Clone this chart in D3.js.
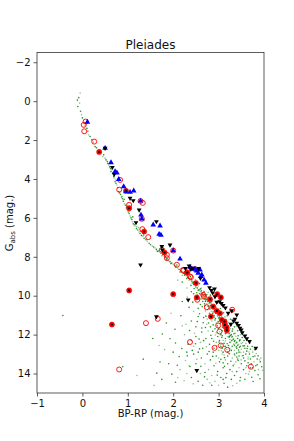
<!DOCTYPE html>
<html><head><meta charset="utf-8">
<script src="https://cdn.jsdelivr.net/npm/d3@7"></script>
<style>body{margin:0;background:#fff}svg{display:block}text{font-family:"DejaVu Sans",sans-serif}</style>
</head><body><svg id="c" width="294" height="441"></svg>
<script>
const titleText = "Pleiades";
const xLabel = "BP-RP (mag.)";
const xTicks = [-1,0,1,2,3,4];
const yTicks = [-2,0,2,4,6,8,10,12,14];

const greenStars = [
[-0.05,-0.42],[-0.08,-0.18],[-0.11,-0.05],[-0.06,0.1],[-0.1,0.28],[-0.04,0.52],[-0.02,0.7],[0.0,0.86],[0.03,1.1],[0.06,1.28],[0.1,1.4],[0.12,1.55],[0.14,1.74],[0.17,1.82],[0.21,1.99],[0.24,2.12],[0.28,2.34],[0.31,2.4],[0.36,2.52],[0.41,2.64],[0.47,2.76],[0.5,2.93],[0.52,3.02],[0.55,3.1],[0.58,3.28],[0.6,3.38],[0.62,3.47],[0.65,3.53],[0.67,3.7],[0.69,3.88],[0.7,3.95],[0.72,4.14],[0.74,4.22],[0.76,4.31],[0.78,4.45],[0.8,4.65],[0.73,4.05],[0.63,3.62],[0.56,3.2],[0.45,2.85],
[0.82,4.72],[0.84,4.8],[0.86,4.95],[0.88,5.02],[0.9,5.15],[0.93,5.28],[0.95,5.35],[0.97,5.48],[0.99,5.6],[1.01,5.7],[1.03,5.78],[1.05,5.9],[1.07,6.0],[1.09,6.08],[1.1,6.2],[1.12,6.3],[1.14,6.35],[1.16,6.42],[1.19,6.55],[1.22,6.62],[1.25,6.72],[1.27,6.8],[1.3,6.9],[1.33,6.95],[1.36,7.05],[1.4,7.12],[1.43,7.2],[1.47,7.3],[1.5,7.38],[1.54,7.45],[0.92,5.05],[0.98,5.4],[1.04,5.65],[1.11,5.95],[1.18,6.28],[1.24,6.5],[1.29,6.7],[1.35,6.88],[1.2,6.45],[0.87,4.9],
[1.57,7.5],[1.6,7.55],[1.63,7.62],[1.67,7.7],[1.7,7.75],[1.73,7.82],[1.77,7.9],[1.8,7.98],[1.83,8.02],[1.87,8.1],[1.9,8.2],[1.93,8.25],[1.97,8.32],[2.0,8.38],[2.03,8.45],[2.06,8.5],[2.1,8.58],[2.13,8.65],[2.17,8.72],[2.2,8.78],[2.23,8.85],[2.26,8.9],[2.29,8.98],[2.32,9.05],[2.35,9.1],[2.38,9.18],[2.41,9.25],[2.44,9.3],[2.47,9.38],[2.5,9.45],[1.65,7.72],[1.75,7.95],[1.85,8.12],[1.95,8.35],[2.05,8.55],[2.15,8.78],[2.25,8.95],[2.35,9.2],[2.45,9.42],[2.08,8.42],[2.18,8.62],[2.28,8.82],[2.38,9.02],[2.2,8.95],[2.3,9.12],[2.42,9.35],[2.3,9.6],[2.4,9.8],[2.2,9.3],[2.1,9.2],
[2.5,9.55],[2.53,9.6],[2.55,9.5],[2.57,9.7],[2.6,9.65],[2.6,9.8],[2.62,9.75],[2.64,9.9],[2.66,9.85],[2.67,10.0],[2.69,9.95],[2.7,10.1],[2.72,10.05],[2.73,10.2],[2.75,10.15],[2.76,10.3],[2.78,10.25],[2.79,10.4],[2.8,10.35],[2.82,10.5],[2.84,10.45],[2.85,10.6],[2.87,10.55],[2.88,10.7],[2.9,10.65],[2.91,10.8],[2.93,10.75],[2.94,10.9],[2.96,10.85],[2.97,11.0],[2.55,9.72],[2.58,9.9],[2.63,10.02],[2.68,10.15],[2.71,10.3],[2.74,10.42],[2.77,10.55],[2.81,10.68],[2.84,10.8],[2.87,10.92],[2.9,11.02],[2.62,9.6],[2.68,9.78],[2.74,9.95],[2.8,10.12],[2.85,10.28],[2.9,10.45],[2.95,10.6],[3.0,10.75],[2.52,9.85],[2.58,10.1],[2.65,10.3],[2.7,10.5],[2.76,10.72],[2.8,10.9],[2.6,10.45],[2.5,10.2],[2.55,10.65],[2.45,9.9],
[2.98,11.05],[3.0,11.15],[3.02,11.1],[3.03,11.25],[3.05,11.2],[3.06,11.35],[3.08,11.3],[3.09,11.45],[3.1,11.4],[3.12,11.55],[3.13,11.5],[3.15,11.65],[3.16,11.6],[3.18,11.75],[3.19,11.7],[3.2,11.85],[3.22,11.8],[3.23,11.95],[3.25,11.9],[3.26,12.05],[3.28,12.0],[3.29,12.15],[3.3,12.1],[3.32,12.25],[3.33,12.2],[3.35,12.35],[3.36,12.3],[3.38,12.45],[3.4,12.4],[3.42,12.55],[3.44,12.5],[3.46,12.65],[3.48,12.6],[3.5,12.75],[2.9,11.1],[2.92,11.25],[2.95,11.4],[2.97,11.55],[3.0,11.7],[3.02,11.85],[3.05,12.0],[3.07,12.15],[3.1,12.3],[3.12,12.45],[3.15,12.6],[3.18,12.75],[3.2,12.9],[3.1,11.2],[3.14,11.3],[3.18,11.42],[3.22,11.55],[3.26,11.7],[3.3,11.82],[3.34,11.95],[3.38,12.08],[3.42,12.2],[3.46,12.32],[3.5,12.45],[3.54,12.58],[3.58,12.7],[2.85,11.3],[2.88,11.5],[2.92,11.7],[2.95,11.9],[2.98,12.1],[3.02,12.3],[3.05,12.5],[3.08,12.7],[3.1,12.9],[3.12,13.05],[3.25,12.4],[3.3,12.6],[3.35,12.8],[3.4,12.95],[3.45,13.1],[3.2,12.1],[3.15,11.95],[3.08,11.8],[3.25,12.25],[3.35,12.55],[3.4,12.7],[3.55,12.9],[3.6,13.0],[3.62,12.85],[3.65,13.15],[3.68,13.0],[3.7,13.25],[3.28,11.4],[3.35,11.6],[3.42,11.8],[3.48,12.0],[3.52,12.15],[3.56,12.3],[3.6,12.45],[3.64,12.6],[3.7,12.75],[3.75,12.9],[3.8,13.1],[3.85,13.25],[3.9,13.3],[2.82,11.6],[2.78,11.4],[2.75,11.2],[2.72,11.05],
[2.4,12.3],[2.45,12.6],[2.5,12.1],[2.55,12.9],[2.6,12.4],[2.62,13.2],[2.65,12.7],[2.7,13.5],[2.72,12.2],[2.75,13.0],[2.78,13.8],[2.8,12.5],[2.82,13.3],[2.85,14.1],[2.88,12.9],[2.9,13.6],[2.92,14.4],[2.95,13.1],[2.98,13.9],[3.0,12.8],[3.02,13.4],[3.05,14.2],[3.08,13.0],[3.1,13.7],[3.12,14.5],[3.15,13.3],[3.18,14.0],[3.2,13.5],[3.22,12.95],[3.25,13.8],[3.28,14.3],[3.3,13.2],[3.32,13.6],[3.35,14.1],[3.38,13.4],[3.4,13.9],[3.42,13.25],[3.45,13.7],[3.48,14.2],[3.5,13.5],[3.52,13.1],[3.55,13.8],[3.58,13.35],[3.6,14.0],[3.62,13.6],[3.65,13.45],[3.68,13.9],[3.72,13.5],[3.75,13.7],[3.78,13.4],[3.82,13.6],[3.85,13.55],[3.88,13.8],[3.92,13.4],[3.95,13.65],[2.6,14.0],[2.55,14.4],[2.65,14.6],[2.75,14.3],[2.85,14.6],[2.7,13.95],[3.0,14.6],[3.1,14.3],[3.2,14.7],[3.4,14.5],[2.5,13.5],[2.45,13.0],[2.35,13.6],[2.4,14.2],[2.3,12.9],[2.95,12.4],[3.05,12.6],[3.15,12.2],[3.25,12.7],[3.35,13.0],[3.45,12.9],[3.5,13.3],[2.85,12.2],[2.9,12.7],[3.0,13.2],[3.1,13.45],[3.2,13.1],[3.3,13.9],[3.4,13.15],[3.55,13.2],[3.65,13.25],[3.7,13.7],[3.8,13.85],[3.6,13.7],
[-0.43,11.02],[0.89,13.65],[1.2,14.1],[1.34,13.26],[1.64,13.98],[1.69,12.56],[1.76,11.97],[2.05,12.43],[2.2,11.55],[2.31,13.09],[2.37,13.64],[2.44,14.53],[2.55,11.07],[2.63,11.66],[2.1,14.2],[1.9,13.5],[2.0,12.9],[2.25,12.0],[1.85,11.4],[2.4,11.3],[2.15,13.8],[1.55,12.2],[2.5,11.6],[2.45,10.8],[2.35,10.6],[2.2,10.3],[1.95,10.9],[2.05,14.45],[1.75,14.3],[2.3,14.0],
[2.63,9.93],[2.71,10.22],[2.77,10.08],[2.83,10.37],[2.69,10.41],[2.86,10.19],[2.92,10.51],[2.79,10.63],[2.97,10.38],[3.04,10.66],[2.88,10.84],[3.01,10.97],[3.11,10.88],[2.93,11.17],[3.07,11.08],[3.16,11.22],[2.99,11.33],[3.21,11.36],[3.09,11.62],[3.27,11.53],[3.17,11.87],[3.31,11.71],[3.23,12.13],[3.37,11.93],[3.29,12.31],[3.43,12.06],[3.33,12.49],[3.47,12.27],[3.39,12.63],[3.53,12.41],[3.44,12.79],[3.57,12.57],[3.49,12.91],[3.63,12.71],[3.54,13.07],[3.67,12.89],[3.12,12.61],[3.19,12.47],[3.06,12.83],[3.24,12.98],[3.13,13.18],[2.96,12.57],[2.89,12.34],[2.83,12.03],[2.77,11.81],[2.71,11.63],[2.66,11.39],[2.93,12.02],[3.01,12.38],[2.87,11.83],[3.14,11.09],[3.19,11.03],[3.26,11.21],[3.34,11.39],[3.41,11.57],[3.46,11.76],[3.51,11.92],[3.57,12.11],[3.62,12.27],[3.69,12.44],[3.74,12.61],[3.79,12.77],[3.83,12.97],[3.76,13.13],[3.87,13.09],[3.93,13.21],[3.04,11.41],[3.11,11.67],[3.18,11.93],[3.24,12.09],[3.08,12.06],[3.15,12.33],[3.22,12.56],[3.28,12.81],[3.36,13.07],[3.43,13.33],[3.27,13.37],[3.34,13.52],[3.13,13.63],[3.05,13.27],[2.94,13.47],[2.87,13.12],[2.79,12.87],[2.73,12.63],[2.67,12.31],[2.58,12.73],[2.52,13.27],[2.61,13.63],[2.69,14.17],[2.81,14.47],[2.97,14.08],[3.16,14.21],[3.31,14.63],[3.47,14.37],[3.58,14.29],[3.66,14.03],[3.73,14.19],[3.87,14.06],[3.97,13.83],[3.91,14.27],[3.76,14.41],[2.77,9.83],[2.82,9.97],[2.58,9.38],[2.49,9.17],[2.46,9.63],[2.39,9.47],[2.54,9.96],[2.61,10.17],[2.64,10.57],[2.71,10.78],[2.58,10.93],[2.67,11.12],[2.74,11.47],[2.63,11.87],[2.57,12.23],[2.47,11.93],[2.42,12.81],[2.33,12.49],[2.27,13.33],[2.19,12.71],[2.13,13.13],[2.24,14.37],[2.09,13.57],[1.97,14.03],[1.81,12.77],[1.93,12.21],[1.71,13.41],[1.58,14.61],[2.04,11.72],[2.17,11.03],[2.28,11.47],[2.36,11.79],[2.43,10.33],[2.31,10.07],[2.53,11.33],[2.49,12.47]
];

const blueStars = [
[0.11,1.08],[0.50,2.42],[0.63,3.16],[0.72,3.62],[0.76,3.68],[0.80,4.02],[0.91,4.39],[0.96,4.65],[1.05,4.68],[1.13,4.61],[1.28,5.13],[1.29,5.85],[1.31,6.05],[1.56,6.36],[1.71,6.41],[1.69,6.84],[1.73,6.88],[2.00,7.68],[2.15,8.11],[2.37,8.53],[2.41,8.62],[2.48,8.63],[2.52,8.72],[2.59,8.67],[2.55,8.84],[2.63,8.93],[2.61,9.01],[2.68,9.19],[2.72,9.35]
];

const blackStars = [
[0.50,2.42],[0.66,3.40],[0.70,3.76],[1.05,4.99],[1.12,5.11],[1.25,5.59],[1.18,6.24],[1.63,6.19],[1.75,7.47],[1.93,7.39],[1.76,7.64],[1.28,8.41],[2.35,8.47],[2.39,8.64],[2.80,9.58],[2.84,9.72],[2.33,10.21],[2.96,10.33],[3.02,10.3],[3.29,10.77],[3.40,10.98],[3.27,11.46],[3.40,11.41],[3.47,11.67],[3.52,11.9],[3.58,12.06],[3.82,12.69],[2.52,13.84],[1.63,11.08],
[2.43,8.58],[2.56,8.6],[2.87,9.85],[2.91,9.65],[3.06,10.4],[3.1,10.5],[3.36,11.2],[3.44,11.52],[3.5,11.75],[3.62,12.2],[3.68,12.35],[2.27,8.6],[2.6,9.1],[2.92,10.05],[3.21,10.9],[3.15,10.62],[3.33,11.3]
];

const redFilled = [
[0.37,2.61],[0.96,4.61],[1.03,5.5],[1.36,6.70],[1.81,7.78],[2.31,8.81],[2.50,9.35],[2.81,10.18],[2.52,10.09],[2.97,9.92],[3.05,10.09],[2.88,10.56],[2.96,10.78],[3.03,10.9],[2.83,11.07],[3.07,11.24],[3.13,11.33],[3.14,11.5],[3.18,11.64],[3.18,11.78],[2.0,9.92],[1.03,9.73],[0.65,11.48]
];

const redOpen = [
[0.07,1.05],[0.03,1.22],[0.04,1.55],[0.26,2.08],[0.83,4.05],[0.81,4.55],[1.03,5.33],[1.28,5.13],[1.33,5.23],[1.31,6.05],[1.32,6.58],[1.45,6.99],[1.75,7.64],[1.86,7.9],[1.86,8.07],[2.00,7.68],[2.08,8.41],[2.22,8.67],[2.30,8.81],[2.37,9.01],[2.48,8.63],[2.22,8.71],[2.39,9.05],[2.66,9.95],[2.68,10.05],[2.53,10.21],[2.74,10.59],[2.99,11.53],[3.02,11.84],[3.30,10.72],[1.66,11.19],[1.40,11.41],[2.37,12.38],[2.91,12.68],[3.05,12.56],[3.19,12.78],[3.71,13.65],[0.81,13.79]
];

const svg = d3.select("#c");
const x = d3.scaleLinear().domain([-1,4]).range([37,264]);
const y = d3.scaleLinear().domain([-2.5,15]).range([52.5,393]);

svg.append("g").selectAll("circle").data(greenStars).join("circle")
  .attr("cx", d => x(d[0])).attr("cy", d => y(d[1])).attr("r", 0.8)
  .attr("fill", "green").attr("opacity", (d, i) => i % 3 === 0 ? 0.45 : 0.85);

svg.append("g").selectAll("circle").data(redFilled).join("circle")
  .attr("cx", d => x(d[0])).attr("cy", d => y(d[1])).attr("r", 2.6)
  .attr("fill", "red").attr("stroke", "red").attr("stroke-width", 0.5);
svg.append("g").selectAll("circle").data(redOpen).join("circle")
  .attr("cx", d => x(d[0])).attr("cy", d => y(d[1])).attr("r", 2.5)
  .attr("fill", "none").attr("stroke", "red").attr("stroke-width", 0.9);

svg.append("g").selectAll("path").data(blueStars).join("path")
  .attr("transform", d => `translate(${x(d[0])},${y(d[1])})`)
  .attr("d", d3.symbol().type(d3.symbolTriangle).size(14)).attr("fill", "blue");

svg.append("g").selectAll("path").data(blackStars).join("path")
  .attr("transform", d => `translate(${x(d[0])},${y(d[1])}) rotate(180)`)
  .attr("d", d3.symbol().type(d3.symbolTriangle).size(10)).attr("fill", "black");

svg.append("g").selectAll("circle").data(redFilled).join("circle")
  .attr("cx", d => x(d[0])).attr("cy", d => y(d[1])).attr("r", 1.1)
  .attr("fill", "black");

const fmt = d => d3.format("")(d);
const xa = svg.append("g").attr("transform", "translate(0,393)")
  .call(d3.axisBottom(x).tickValues(xTicks).tickSize(3.5).tickPadding(3).tickFormat(fmt));
const ya = svg.append("g").attr("transform", "translate(37,0)")
  .call(d3.axisLeft(y).tickValues(yTicks).tickSize(3.5).tickPadding(3).tickFormat(fmt));
[xa, ya].forEach(a => {
  a.select(".domain").remove();
  a.selectAll("line").attr("stroke", "#333").attr("stroke-width", 0.8);
  a.selectAll("text").attr("font-size", 10).attr("fill", "#111").attr("font-family", "DejaVu Sans");
});

svg.append("rect").attr("x", 37).attr("y", 52.5).attr("width", 227).attr("height", 340.5)
  .attr("fill", "none").attr("stroke", "#333").attr("stroke-width", 0.8);

svg.append("text").attr("x", 150.5).attr("y", 49).attr("text-anchor", "middle")
  .attr("font-size", 12).attr("fill", "#111").text(titleText);
svg.append("text").attr("x", 150.5).attr("y", 417).attr("text-anchor", "middle")
  .attr("font-size", 10).attr("fill", "#111").text(xLabel);
const yl = svg.append("text").attr("transform", "translate(13,223) rotate(-90)")
  .attr("text-anchor", "middle").attr("font-size", 10).attr("fill", "#111");
yl.append("tspan").text("G");
yl.append("tspan").attr("font-size", 7).attr("dy", 2).text("abs");
yl.append("tspan").attr("dy", -2).text(" (mag.)");
</script></body></html>
